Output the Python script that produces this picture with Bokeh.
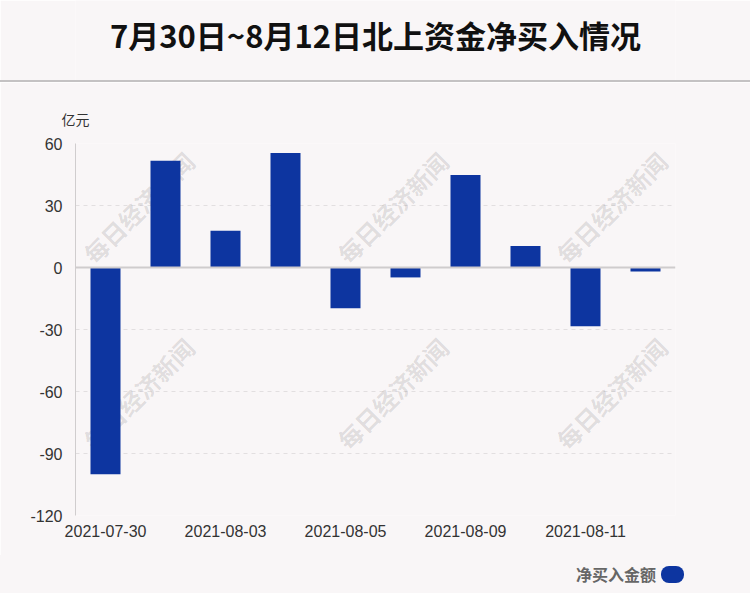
import math
from bokeh.plotting import figure
from bokeh.layouts import column
from bokeh.models import (ColumnDataSource, FixedTicker, Span, Label, Range1d, Title, Div)
from bokeh.embed import file_html
from bokeh.resources import INLINE

# ---- data ----
dates = ["2021-07-30", "2021-08-02", "2021-08-03", "2021-08-04", "2021-08-05",
         "2021-08-06", "2021-08-09", "2021-08-10", "2021-08-11", "2021-08-12"]
values = [-100.1, 51.6, 17.8, 55.4, -19.7, -4.8, 44.7, 10.4, -28.4, -1.9]
y_ticks = [-120, -90, -60, -30, 0, 30, 60]
x_tick_idx = [0, 2, 4, 6, 8]
title_text = "7月30日~8月12日北上资金净买入情况"
unit_text = "亿元"
legend_text = "净买入金额"
watermark = "每日经济新闻"

BG = "#f9f6f7"
BAR = "#0d35a0"
SEP = "#c4c2c3"
W = 750

# ---- header: title ----
p_head = figure(width=W, height=80, output_backend="svg", toolbar_location=None,
                x_range=Range1d(0, W), y_range=Range1d(0, 80), min_border=0, title_location=None)
p_head.axis.visible = False
p_head.grid.visible = False
p_head.outline_line_color = None
p_head.background_fill_color = BG
p_head.border_fill_color = BG
p_head.add_layout(Label(x=375, y=46, text=title_text, text_align="center", text_baseline="middle",
                        text_font="Noto Sans CJK SC", text_font_style="bold",
                        text_font_size="31px", text_color="#111111"))

# separator line across the full width
sep = Div(text="", width=W, height=2, margin=(0, 0, 0, 0),
          styles={"background-color": SEP, "margin": "0", "padding": "0"})

# ---- main chart ----
idx = list(range(len(dates)))
src = ColumnDataSource(dict(x=idx, top=values, date=dates))

p = figure(frame_width=600, frame_height=372, output_backend="svg", toolbar_location=None,
           x_range=Range1d(-0.5, len(dates) - 0.5), y_range=Range1d(-120, 60),
           min_border_left=75, min_border_right=75, min_border_top=61, min_border_bottom=40)
p.background_fill_color = BG
p.border_fill_color = BG
p.outline_line_color = None

# unit label as the plot's title (left aligned, slightly left of the frame)
p.title = Title(text=unit_text, align="left", offset=-14, vertical_align="middle",
                standoff=27, text_font="Noto Sans CJK SC", text_font_style="normal",
                text_font_size="14px", text_color="#333333")

# watermarks behind bars (kept fully inside the plotting area)
wm_pos = [(63, 308), (317, 308), (536, 308), (63, 122), (317, 122), (536, 122)]
for sx, sy in wm_pos:
    p.add_layout(Label(x=sx, y=sy, x_units="screen", y_units="screen", text=watermark,
                       angle=math.pi / 4, text_align="center", text_baseline="middle",
                       text_font="Noto Sans CJK SC", text_font_style="bold",
                       text_font_size="24px", text_color="black", text_alpha=0.11,
                       level="underlay"))

p.vbar(x="x", top="top", bottom=0, width=0.5, source=src, fill_color=BAR, line_color=None)

p.add_layout(Span(location=0, dimension="width", line_color="#cfcccd", line_width=2))

p.yaxis.ticker = FixedTicker(ticks=y_ticks)
p.yaxis.major_label_overrides = {t: str(t) for t in y_ticks}
p.yaxis.axis_line_color = "#d0cdce"
p.yaxis.major_tick_line_color = None
p.yaxis.minor_tick_line_color = None
p.yaxis.major_label_text_font = "Liberation Sans"
p.yaxis.major_label_text_font_size = "16px"
p.yaxis.major_label_text_color = "#333333"
p.yaxis.major_label_standoff = 7

p.xaxis.ticker = FixedTicker(ticks=x_tick_idx)
p.xaxis.major_label_overrides = {i: dates[i] for i in x_tick_idx}
p.xaxis.axis_line_color = None
p.xaxis.major_tick_line_color = None
p.xaxis.minor_tick_line_color = None
p.xaxis.major_label_text_font = "Liberation Sans"
p.xaxis.major_label_text_font_size = "16px"
p.xaxis.major_label_text_color = "#333333"
p.xaxis.major_label_standoff = 3

p.xgrid.grid_line_color = None
p.ygrid.grid_line_color = "#e2dfe0"
p.ygrid.grid_line_dash = "4 4"

# ---- footer: legend ----
foot_html = (
    '<div style="position:relative;width:750px;height:38px;">'
    '<span style="position:absolute;right:94px;top:9px;height:20px;line-height:20px;'
    'font-family:\'Noto Sans CJK SC\';font-weight:bold;font-size:16px;color:#666666;'
    'white-space:nowrap;">' + legend_text + '</span>'
    '<span style="position:absolute;left:661px;top:11px;width:23px;height:17px;'
    'border-radius:8px;background-color:' + BAR + ';"></span>'
    '</div>'
)
foot = Div(text=foot_html, width=W, height=38, margin=(0, 0, 0, 0),
           styles={"background-color": BG, "margin": "0", "padding": "0"})

layout = column(p_head, sep, p, foot, spacing=0)
open("out.html", "w").write(file_html(layout, INLINE))
